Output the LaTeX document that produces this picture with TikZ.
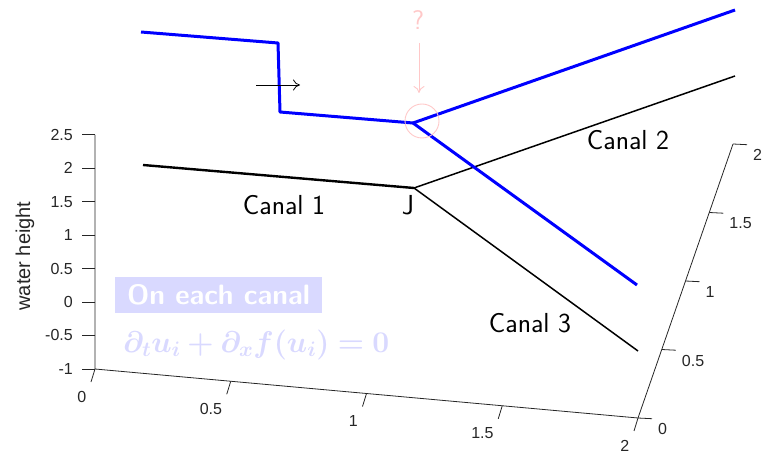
\RequirePackage{fix-cm}
\documentclass[tikz,border=0pt]{standalone}
\usepackage{fontspec}
\newfontfamily\axfont{Liberation Sans}
\usepackage{bm}
\usetikzlibrary{arrows.meta}
\definecolor{axgray}{RGB}{38,38,38}
\definecolor{lav}{RGB}{217,217,255}
\definecolor{pinkish}{RGB}{255,200,200}
\begin{document}
\begin{tikzpicture}[x=1pt,y=-1pt,
  axis/.style={draw=axgray, line width=0.8pt},
  tickline/.style={draw=axgray, line width=0.8pt},
  ticklab/.style={font=\axfont\fontsize{16}{18}\selectfont, text=axgray, inner sep=0pt},
  canalk/.style={draw=black, line width=1.5pt, line join=round},
  canalb/.style={draw=blue, line width=3pt, line join=round},
  lab/.style={font=\sffamily\fontsize{27.5}{32}\selectfont, inner sep=0pt},
  pinkline/.style={draw=pinkish, line width=0.9pt}]
\useasboundingbox (0,0) rectangle (765,454);
% axes
\coordinate (O) at (95,369);
\coordinate (Xe) at (638,418);
\coordinate (Ze) at (95,135);
\coordinate (De) at (733,144);
\draw[axis] (Ze) -- (O) -- (Xe) -- (De);
\foreach \z in {-1,-0.5,0,0.5,1,1.5,2,2.5}{
  \pgfmathsetmacro\yy{302-66.9*\z}
  \draw[tickline] (95,\yy) -- (82,\yy);
  \node[ticklab, anchor=east] at (73,\yy) {\z};
}
\foreach \t in {0,0.5,1,1.5,2}{
  \pgfmathsetmacro\xx{95+271.5*\t}
  \pgfmathsetmacro\yy{369+24.5*\t}
  \draw[tickline] (\xx,\yy) -- ++(-4,13);
  \node[ticklab, anchor=east] at (\xx-8.5,\yy+27.5) {\t};
}
\foreach \t in {0,0.5,1,1.5,2}{
  \pgfmathsetmacro\xx{638+47.5*\t}
  \pgfmathsetmacro\yy{418-137*\t}
  \draw[tickline] (\xx,\yy) -- ++(14,0.7);
  \node[ticklab, anchor=west] at (\xx+20,\yy+11) {\t};
}
\node[font=\axfont\fontsize{20}{22}\selectfont, text=axgray, rotate=90, inner sep=0pt] (ylab) at (25,256) {water height};
% black canals
\coordinate (A1) at (143,165);
\coordinate (J) at (414,188);
\coordinate (A2) at (735,76);
\coordinate (A3) at (638,351);
\draw[canalk, line width=2.4pt] (A1) -- (J);
\draw[canalk] (J) -- (A2);
\draw[canalk] (J) -- (A3);
% blue canals
\coordinate (B1) at (141,32);
\coordinate (B1s) at (278,43);
\coordinate (B1t) at (280,112);
\coordinate (BJ) at (413,123);
\coordinate (B2) at (735,10);
\coordinate (B3) at (637,285);
\draw[canalb] (B1) -- (B1s) -- (B1t) -- (BJ);
\draw[canalb] (BJ) -- (B2);
\draw[canalb] (BJ) -- (B3);
% moving arrow
\coordinate (ar1) at (256,85);
\coordinate (ar2) at (300,85);
\draw[line width=0.8pt, -{To[length=7pt,width=11pt]}] (ar1) -- (ar2);
% labels
\node[lab, anchor=base] (c1) at (284,215) {Canal 1};
\node[lab, anchor=base] (jl) at (408,215) {J};
\node[lab, anchor=base] (c2) at (628,150) {Canal 2};
\node[lab, anchor=base] (c3) at (530,332) {Canal 3};
% question
\node[font=\sffamily\fontsize{27}{30}\selectfont, text=pinkish, inner sep=0pt] (q) at (418,20) {?};
\coordinate (pa0) at (419,43);
\coordinate (pa1) at (419,93);
\draw[pinkline, -{To[length=7pt,width=11pt]}] (pa0) -- (pa1);
\node[circle, pinkline, minimum size=34pt, inner sep=0pt] (circ) at (422,121) {};
% box and equation
\node[fill=lav, text=white, font=\sffamily\bfseries\fontsize{28}{32}\selectfont, minimum width=207pt, minimum height=36pt, inner sep=0pt] (box) at (218.5,295) {On each canal};
\node[text=lav, font=\fontsize{30}{34}\selectfont, anchor=base west, inner sep=0pt] (eq) at (123,352) {$\bm{\partial_t u_i+\partial_x f(u_i)=0}$};
\end{tikzpicture}
\end{document}
